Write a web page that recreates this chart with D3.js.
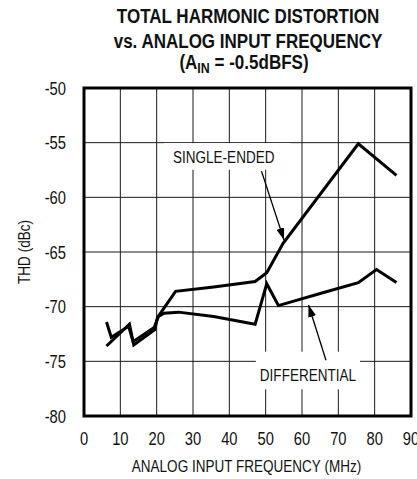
<!DOCTYPE html>
<html>
<head>
<meta charset="utf-8">
<script src="https://cdn.jsdelivr.net/npm/d3@7"></script>
<style>
  body { margin: 0; background: #fff; }
  svg text { font-family: "Liberation Sans", Arial, sans-serif; fill: #111; }
</style>
</head>
<body>
<div id="chart"></div>
<script>
// THD vs analog input frequency, two curves

var xTicks = [0, 10, 20, 30, 40, 50, 60, 70, 80, 90];
var yTicks = [-50, -55, -60, -65, -70, -75, -80];

// [MHz, dBc]
var singleEnded = [
  [6.2, -73.6], [12.5, -71.6], [13.7, -73.5], [19.5, -72.1], [20.2, -71.0],
  [25.2, -68.6], [35.7, -68.2], [47.1, -67.7], [50.3, -66.9], [54.8, -64.2],
  [75.5, -55.1], [86.0, -58.0]
];
var differential = [
  [6.2, -71.4], [7.5, -72.8], [12.3, -71.8], [13.5, -73.2], [19.3, -71.9],
  [20.5, -70.9], [22.0, -70.6], [26.0, -70.5], [35.7, -70.9], [47.1, -71.6],
  [50.3, -67.9], [53.5, -69.9], [65.0, -68.8], [75.5, -67.8], [80.5, -66.6],
  [86.0, -67.8]
];

var titleLines = ["TOTAL HARMONIC DISTORTION", "vs. ANALOG INPUT FREQUENCY"];

var margin = {top: 88, right: 6, bottom: 63, left: 84},
    W = 417, H = 479,
    width = W - margin.left - margin.right,
    height = H - margin.top - margin.bottom;

var SQ = 0.82; // squeeze to mimic a condensed face

var svg = d3.select("#chart").append("svg")
    .attr("width", W)
    .attr("height", H);

var g = svg.append("g")
    .attr("transform", "translate(" + margin.left + "," + margin.top + ")");

var x = d3.scaleLinear().domain([0, 90]).range([0, width]);
var y = d3.scaleLinear().domain([-80, -50]).range([height, 0]);

// condensed text helper
function ctext(parent, px, py, str, size, anchor, rot, sq) {
  return parent.append("text")
      .attr("transform", "translate(" + px + "," + py + ")" + (rot ? " rotate(" + rot + ")" : "") + " scale(" + (sq || SQ) + ",1)")
      .attr("text-anchor", anchor || "start")
      .style("font-size", size + "px")
      .text(str);
}

// grid
g.append("g").selectAll("line").data(xTicks.slice(1, -1)).enter().append("line")
    .attr("x1", d => x(d)).attr("x2", d => x(d))
    .attr("y1", 0).attr("y2", height)
    .attr("stroke", "#1a1a1a").attr("stroke-width", 1);
g.append("g").selectAll("line").data(yTicks.slice(1, -1)).enter().append("line")
    .attr("x1", 0).attr("x2", width)
    .attr("y1", d => y(d)).attr("y2", d => y(d))
    .attr("stroke", "#1a1a1a").attr("stroke-width", 1);

// tick labels
var xl = g.append("g");
xTicks.forEach(d => ctext(xl, x(d), height + 29, d, 18, "middle"));
var yl = g.append("g");
yTicks.forEach(d => ctext(yl, -18, y(d) + 6.5, d, 18, "end"));

// axis titles
ctext(g, width / 2 - 1, height + 56, "ANALOG INPUT FREQUENCY (MHz)", 16.5, "middle");
ctext(g, -54, y(-65), "THD (dBc)", 16.5, "middle", -90);

// chart title
titleLines.forEach(function (d, i) {
  ctext(svg, 248, 23 + i * 25, d, 20.5, "middle", 0, 0.83).style("font-weight", "bold");
});
var t3 = ctext(svg, 244, 69, "", 20.5, "middle", 0, 0.83).style("font-weight", "bold");
t3.append("tspan").text("(A");
t3.append("tspan").attr("dy", 4).style("font-size", "15px").text("IN");
t3.append("tspan").attr("dy", -4).text(" = -0.5dBFS)");

// labels with white boxes that cut the grid
function label(txt, fx, fy, padL, padR, padT, padB) {
  var px = x(fx), py = y(fy);
  var t = ctext(g, px, py, txt, 16.5, "start");
  var b = t.node().getBBox();
  g.insert("rect", () => t.node())
      .attr("x", px + b.x * SQ - padL).attr("y", py + b.y - padT)
      .attr("width", b.width * SQ + padL + padR)
      .attr("height", b.height + padT + padB)
      .attr("fill", "#fff");
}
label("SINGLE-ENDED", 24.5, -56.9, 9, 16, 5, 3);
label("DIFFERENTIAL", 48.4, -76.8, 4, 4, 14, 5);

// curves
var line = d3.line().x(d => x(d[0])).y(d => y(d[1]));
[singleEnded, differential].forEach(function (s) {
  g.append("path")
      .datum(s)
      .attr("d", line)
      .attr("fill", "none")
      .attr("stroke", "#000")
      .attr("stroke-width", 3)
      .attr("stroke-linejoin", "miter");
});

// arrows
svg.append("defs").append("marker")
    .attr("id", "head")
    .attr("viewBox", "0 0 12 8")
    .attr("refX", 12).attr("refY", 4)
    .attr("markerWidth", 12).attr("markerHeight", 8)
    .attr("markerUnits", "userSpaceOnUse")
    .attr("orient", "auto")
  .append("path")
    .attr("d", "M0,0 L12,4 L0,8 Z")
    .attr("fill", "#000");

var arrows = [
  [[48.85, -57.6], [55.05, -63.9]],
  [[66.6, -74.9], [61.8, -69.85]]
];
g.append("g").selectAll("line").data(arrows).enter().append("line")
    .attr("x1", d => x(d[0][0])).attr("y1", d => y(d[0][1]))
    .attr("x2", d => x(d[1][0])).attr("y2", d => y(d[1][1]))
    .attr("stroke", "#000").attr("stroke-width", 1.3)
    .attr("marker-end", "url(#head)");

// frame
g.append("rect")
    .attr("x", 0).attr("y", 0)
    .attr("width", width).attr("height", height)
    .attr("fill", "none")
    .attr("stroke", "#000")
    .attr("stroke-width", 3);
</script>
</body>
</html>
